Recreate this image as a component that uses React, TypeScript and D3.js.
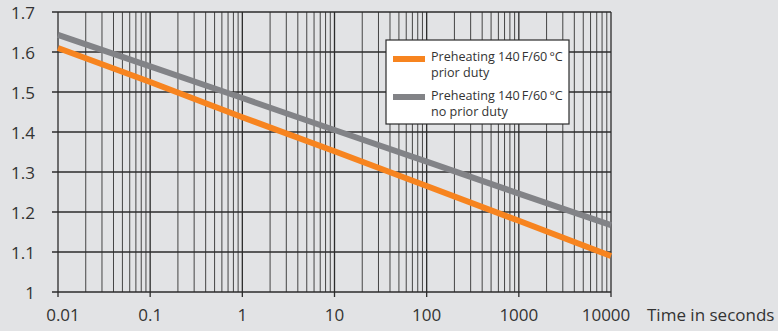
import React from "react";
import * as d3 from "d3";

const times = [0.01, 0.1, 1, 10, 100, 1000, 10000];
const priorDuty = [1.61, 1.525, 1.437, 1.352, 1.265, 1.178, 1.09];
const noPriorDuty = [1.643, 1.564, 1.485, 1.405, 1.326, 1.246, 1.167];
const yTicks = [1, 1.1, 1.2, 1.3, 1.4, 1.5, 1.6, 1.7];
const xTickLabels = ["0.01", "0.1", "1", "10", "100", "1000", "10000"];
const seriesNames = ["Preheating 140\u2009F/60\u2009°C", "Preheating 140\u2009F/60\u2009°C"];
const seriesSub = ["prior duty", "no prior duty"];

const W = 778, H = 331;
const left = 58, right = 611, top = 12, bottom = 292;
const ORANGE = "#f7841f";
const GRAY = "#828387";
const INK = "#2b2b2b";
const FONT = "'Open Sans', 'Noto Sans', sans-serif";

export default function App() {
  const x = d3.scaleLog().domain([0.01, 10000]).range([left, right]);
  const y = d3.scaleLinear().domain([1, 1.7]).range([bottom, top]);

  const minor: number[] = [];
  for (let d = -2; d < 4; d++) {
    for (let m = 2; m <= 9; m++) minor.push(m * Math.pow(10, d));
  }

  const line = d3
    .line<number>()
    .x((_, i) => x(times[i]))
    .y((v) => y(v));

  const labelShift = (i: number) => (i === 0 ? 5 : i === times.length - 1 ? -5 : 0);

  return (
    <svg width={W} height={H} style={{ position: "absolute", left: 0, top: 0, background: "#e2e3e5" }}>
      <rect x={0} y={0} width={W} height={H} fill="#e2e3e5" />
      {minor.map((t, i) => (
        <line key={"m" + i} x1={x(t)} x2={x(t)} y1={top} y2={bottom} stroke="#444" strokeWidth={1} />
      ))}
      {times.map((t, i) => (
        <line key={"M" + i} x1={x(t)} x2={x(t)} y1={top} y2={bottom + 5} stroke={INK} strokeWidth={1.3} />
      ))}
      {yTicks.map((v, i) => (
        <line key={"y" + i} x1={left - 6} x2={right} y1={y(v)} y2={y(v)} stroke={INK} strokeWidth={1.3} />
      ))}
      {yTicks.map((v, i) => (
        <text key={"yl" + i} x={35} y={y(v) + 1.5} dy="0.35em" textAnchor="end" fontFamily={FONT} fontSize={17} fill="#333">
          {String(v)}
        </text>
      ))}
      {times.map((t, i) => (
        <text key={"xl" + i} x={x(t) + labelShift(i)} y={315.5} dy="0.35em" textAnchor="middle" fontFamily={FONT} fontSize={17} fill="#333">
          {xTickLabels[i]}
        </text>
      ))}
      <text x={647} y={315.5} dy="0.35em" fontFamily={FONT} fontSize={17} fill="#333">Time in seconds</text>
      <path d={line(noPriorDuty) || ""} fill="none" stroke={GRAY} strokeWidth={6} />
      <path d={line(priorDuty) || ""} fill="none" stroke={ORANGE} strokeWidth={6} />
      <rect x={386} y={40} width={183} height={84} fill="#fff" stroke={INK} strokeWidth={1.2} />
      {[ORANGE, GRAY].map((c, i) => (
        <g key={"lg" + i}>
          <line x1={393} x2={425} y1={59 + i * 38} y2={59 + i * 38} stroke={c} strokeWidth={6} />
          <text x={431} y={57 + i * 39} dy="0.35em" fontFamily={FONT} fontSize={12.6} fill="#333">{seriesNames[i]}</text>
          <text x={431} y={73 + i * 39} dy="0.35em" fontFamily={FONT} fontSize={12.6} fill="#333">{seriesSub[i]}</text>
        </g>
      ))}
    </svg>
  );
}
